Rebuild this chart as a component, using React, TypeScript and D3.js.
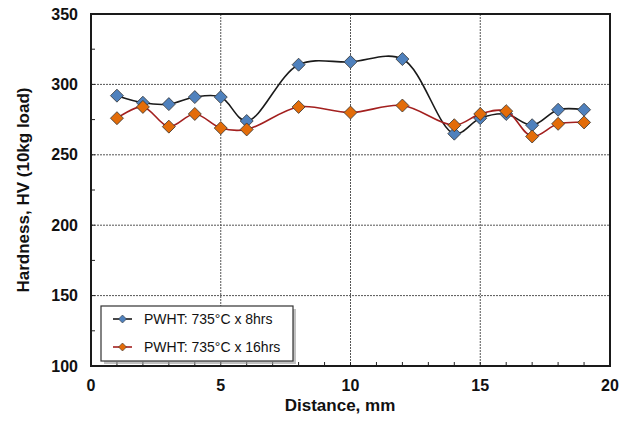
import React from 'react';
import * as d3 from 'd3';

const distance8 = [1, 2, 3, 4, 5, 6, 8, 10, 12, 14, 15, 16, 17, 18, 19];
const hardness8 = [292, 287, 286, 291, 291, 274, 314, 316, 318, 265, 276, 279, 271, 282, 282];
const distance16 = [1, 2, 3, 4, 5, 6, 8, 10, 12, 14, 15, 16, 17, 18, 19];
const hardness16 = [276, 284, 270, 279, 269, 268, 284, 280, 285, 271, 279, 281, 263, 272, 273];
const xTicks = [0, 5, 10, 15, 20];
const yTicks = [100, 150, 200, 250, 300, 350];
const seriesNames = ['PWHT: 735°C x 8hrs', 'PWHT: 735°C x 16hrs'];

const W = 622;
const H = 421;
const left = 91, right = 610, top = 14, bottom = 366;

const x = d3.scaleLinear().domain([0, 20]).range([left, right]);
const y = d3.scaleLinear().domain([100, 350]).range([bottom, top]);

const line = d3
  .line<[number, number]>()
  .x(d => x(d[0]))
  .y(d => y(d[1]))
  .curve(d3.curveCatmullRom.alpha(0.5));

const series = [
  { pts: distance8.map((d, i) => [d, hardness8[i]] as [number, number]), stroke: '#1a1a1a', fill: '#4f81bd' },
  { pts: distance16.map((d, i) => [d, hardness16[i]] as [number, number]), stroke: '#a3201f', fill: '#e36c09' },
];

const diamond = (cx: number, cy: number, r: number) =>
  `M${cx},${cy - r}L${cx + r},${cy}L${cx},${cy + r}L${cx - r},${cy}Z`;

export default function App() {
  const font = 'Arial, "Liberation Sans", sans-serif';
  return (
    <svg width={W} height={H} style={{ position: 'absolute', left: 0, top: 0 }} fontFamily={font}>
      <rect width={W} height={H} fill="#fff" />
      {/* grid */}
      {xTicks.slice(1, -1).map(t => (
        <line key={'gx' + t} x1={x(t)} x2={x(t)} y1={top} y2={bottom} stroke="#555" strokeWidth={1} strokeDasharray="2,1" />
      ))}
      {yTicks.slice(1, -1).map(t => (
        <line key={'gy' + t} x1={left} x2={right} y1={y(t)} y2={y(t)} stroke="#555" strokeWidth={1} strokeDasharray="2,1" />
      ))}
      {/* minor ticks */}
      {d3.range(1, 20).map(t => (
        <line key={'tx' + t} x1={x(t)} x2={x(t)} y1={bottom} y2={bottom - 4} stroke="#222" strokeWidth={1} />
      ))}
      {d3.range(125, 350, 25).map(t => (
        <line key={'ty' + t} x1={left} x2={left + 4} y1={y(t)} y2={y(t)} stroke="#222" strokeWidth={1} />
      ))}
      <rect x={left} y={top} width={right - left} height={bottom - top} fill="none" stroke="#1a1a1a" strokeWidth={2} />
      {/* series */}
      {series.map((s, i) => (
        <g key={'s' + i}>
          <path d={line(s.pts) || ''} fill="none" stroke={s.stroke} strokeWidth={1.6} />
          {s.pts.map((p, j) => (
            <path key={j} d={diamond(x(p[0]), y(p[1]), 6.5)} fill={s.fill} stroke="#333" strokeWidth={0.8} />
          ))}
        </g>
      ))}
      {/* tick labels */}
      {yTicks.map(t => (
        <text key={'ly' + t} x={78} y={y(t)} dy="0.35em" textAnchor="end" fontSize={16} fontWeight="bold" fill="#111">
          {t}
        </text>
      ))}
      {xTicks.map(t => (
        <text key={'lx' + t} x={x(t)} y={385} dy="0.35em" textAnchor="middle" fontSize={16} fontWeight="bold" fill="#111">
          {t}
        </text>
      ))}
      <text x={340} y={411} textAnchor="middle" fontSize={17} fontWeight="bold" fill="#111">
        Distance, mm
      </text>
      <text
        transform={`translate(29,${(top + bottom) / 2}) rotate(-90)`}
        textAnchor="middle"
        fontSize={17}
        fontWeight="bold"
        fill="#111"
      >
        Hardness, HV (10kg load)
      </text>
      {/* legend */}
      <rect x={104} y={309} width={192} height={55} fill="#999" opacity={0.6} />
      <rect x={101} y={306} width={192} height={55} fill="#fff" stroke="#333" strokeWidth={1.2} />
      {seriesNames.map((n, i) => {
        const ly = 319 + i * 28;
        return (
          <g key={'lg' + i}>
            <line x1={113} x2={132} y1={ly} y2={ly} stroke={series[i].stroke} strokeWidth={1.6} />
            <path d={diamond(122.5, ly, 4)} fill={series[i].fill} stroke="#333" strokeWidth={0.6} />
            <text x={144} y={ly} dy="0.35em" fontSize={14} fill="#111">
              {n}
            </text>
          </g>
        );
      })}
    </svg>
  );
}
